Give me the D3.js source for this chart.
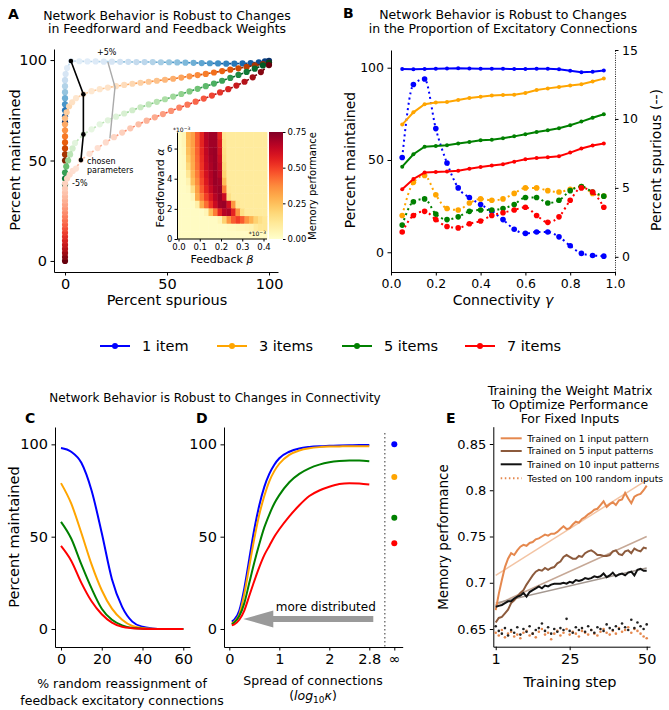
<!DOCTYPE html>
<html><head><meta charset="utf-8">
<script src="https://cdn.jsdelivr.net/npm/d3@7"></script>
<style>body{margin:0;background:#fff}svg{display:block}</style>
</head><body>
<svg id="c" width="669" height="710"></svg>
<script>
// ================= DATA =================
const itemLabels = ['1 item','3 items','5 items','7 items'];
const itemColors = ['#0000ff','#ffa500','#008000','#ff0000'];

// Panel A: percent spurious (x) vs percent maintained (y) while scaling weights
const aSpur1  = [0,0,0,0,0,0,0,0,0.3,1,2.9,7,11,15,19,23,27,31,35,39,43,47,51,55,59,63,67,71,75,79,83,87,91,95,98,100];
const aMaint1 = [69,72,75,78,81,84,87,90,93,96,99.5,99.4,99.3,99.3,99.2,99.2,99.1,99.1,99,99,99,98.9,98.9,98.8,98.7,98.6,98.5,98.4,98.3,98.2,98.2,98.3,98.5,98.9,99.3,99.6];
const aSpur3  = [0,0,0,0,0,0,0,0,0.8,2,3.5,5.4,9,13,17,21,25,29,33,37,41,45,49,53,57,61,65,69,73,77,81,85,89,93,97,100];
const aMaint3 = [50,53,56,59,62,65,68,71,74,77,79,81,83,84.5,85.5,86.3,87,87.6,88.2,88.7,89.2,89.7,90.2,90.7,91.3,91.9,92.5,93.1,93.8,94.5,95.2,95.9,96.6,97.3,98,98.6];
const aSpur5  = [0,0,0,0.6,1.5,2.5,3.7,4.9,9,13,17,21,25,29,33,37,41,45,49,53,57,61,65,69,73,77,81,85,89,93,97,100];
const aMaint5 = [38,41,44,47,50,53,56,58.7,63,65.5,68,70,71.8,73.4,75,76.5,77.9,79.2,80.5,81.8,83.1,84.4,85.7,87,88.3,89.7,91.1,92.6,94.1,95.7,97.3,98.6];
const aSpur7  = [0,0,0,0,0,0,0,0,0,0,0,0,0,0,0,0,0,0,0,0,1,2.3,3.8,5.4,7.8,12,16,20,24,28,32,36,40,44,48,52,56,60,64,68,72,76,80,84,88,92,96,100];
const aMaint7 = [0,2,4,6,8,10,12,14,16,18,20,22,24,26,28,30,32,34,36,38.5,41,43,44.8,46,50.2,53.3,56.2,59,61.6,63.9,66,68,69.8,71.5,73.1,74.7,76.3,77.8,79.3,80.8,82.3,83.9,85.5,87.3,89.2,91.4,94,97.5];
const aChosenX = [2.9,9,9,7.8];
const aChosenY = [99.5,83,63,50.2];
const aPlus5X = [21,24.5,22];
const aPlus5Y = [99,86.5,61];

// Inset heatmap: memory performance vs feedback beta (columns) and feedforward alpha (rows, top = high alpha)
const heatBeta = [0.01,0.03,0.05,0.07,0.09,0.11,0.13,0.15,0.17,0.19,0.21,0.23,0.25,0.27,0.29,0.31,0.33,0.35,0.37,0.39];
const heatAlpha = [6.85,6.34,5.83,5.33,4.82,4.31,3.80,3.30,2.79,2.28,1.78,1.27,0.76,0.25];
const heatValues = [
 [.02,.05,.28,.33,.45,.55,.66,.70,.70,.55,.12,.10,.10,.10,.10,.10,.10,.10,.10,.10],
 [.02,.05,.27,.33,.45,.55,.65,.70,.70,.58,.14,.10,.10,.10,.10,.10,.10,.10,.10,.10],
 [.02,.04,.25,.32,.44,.54,.64,.70,.71,.60,.15,.10,.10,.10,.10,.10,.10,.10,.10,.10],
 [.02,.03,.22,.31,.43,.53,.63,.69,.71,.62,.16,.10,.10,.10,.10,.10,.10,.10,.10,.10],
 [.02,.03,.18,.30,.42,.52,.62,.68,.71,.64,.18,.10,.10,.10,.10,.10,.10,.10,.10,.10],
 [.02,.02,.12,.28,.40,.50,.60,.67,.71,.66,.20,.10,.10,.10,.10,.10,.10,.10,.10,.10],
 [.02,.02,.06,.25,.37,.48,.58,.66,.71,.69,.26,.10,.10,.10,.10,.10,.10,.10,.10,.10],
 [.02,.02,.03,.15,.33,.45,.55,.63,.69,.71,.40,.11,.10,.10,.10,.10,.10,.10,.10,.10],
 [.02,.02,.02,.05,.30,.40,.50,.58,.66,.71,.62,.15,.10,.10,.10,.10,.10,.10,.10,.10],
 [.02,.02,.02,.02,.08,.30,.42,.52,.62,.70,.71,.60,.35,.12,.10,.10,.10,.10,.10,.10],
 [.02,.02,.02,.02,.02,.02,.05,.25,.40,.55,.66,.68,.55,.35,.15,.10,.10,.10,.10,.10],
 [.02,.02,.02,.02,.02,.02,.02,.02,.02,.05,.20,.35,.45,.50,.45,.35,.28,.20,.15,.12],
 [.02,.02,.02,.02,.02,.02,.02,.02,.02,.02,.02,.03,.03,.04,.04,.05,.06,.10,.12,.12],
 [.02,.02,.02,.02,.02,.02,.02,.02,.02,.02,.02,.02,.02,.02,.02,.02,.02,.02,.02,.02]
];

// Panel B: connectivity gamma
const bGamma = [0.05,0.1,0.15,0.2,0.25,0.3,0.35,0.4,0.45,0.5,0.55,0.6,0.65,0.7,0.75,0.8,0.85,0.9,0.95];
const bMaint1 = [99.3,99.2,99.3,99.5,99.6,99.7,99.6,99.5,99.5,99.4,99.3,99.3,99.5,99.5,99.2,98.4,97.5,97.8,98.5];
const bMaint3 = [69.2,75.8,80.2,81.1,81.4,82.5,83.6,84.3,84.9,85.2,85.4,86.3,87.9,88.8,89.6,90.3,91,92.5,94.1];
const bMaint5 = [46.4,53.1,57.2,57.6,58,58.9,59.8,60.7,61,61.8,62.8,63.9,65.2,66.1,67.2,68.8,70.8,72.9,74.8];
const bMaint7 = [34.1,39.7,43.2,43.5,43.7,44.2,45.3,46.2,47,47.7,49.1,50.4,51.1,51.5,52,54,56.2,57.8,58.9];
const bSpur1 = [7.2,12.5,12.9,9.3,6.8,5.0,4.3,3.8,3.3,2.7,2.0,1.7,1.8,1.8,1.45,0.8,0.25,0.1,0.05];
const bSpur3 = [3.0,5.4,5.9,4.5,3.5,3.4,3.9,4.2,4.1,4.2,4.6,5.0,5.0,4.8,4.7,4.9,5.1,4.6,4.4];
const bSpur5 = [2.3,4.0,4.2,3.1,2.7,2.9,3.3,3.4,3.4,3.5,3.8,4.3,4.3,3.9,4.1,4.8,5.1,4.7,4.4];
const bSpur7 = [1.8,3.0,3.3,2.7,2.2,2.1,2.4,2.6,3.0,3.2,3.4,3.6,3.0,2.5,2.9,4.1,5.0,4.7,3.6];

// Panel C: % random reassignment
const cReassign = [0,5,10,15,20,25,30,35,40,45,50,55,60];
const cMaint1 = [98,96,90,75,52,27,12,4,1.2,0.3,0,0,0];
const cMaint3 = [79,68,52,35,21,11,5,1.6,0.5,0.1,0,0,0];
const cMaint5 = [58,49,35,22,11,5,2,0.6,0.2,0,0,0,0];
const cMaint7 = [45,37,25,15,8,3.5,1.2,0.4,0.1,0,0,0,0];

// Panel D: spread of connections log10 kappa
const dSpread = [0.05,0.1,0.2,0.3,0.4,0.5,0.6,0.7,0.8,0.9,1.0,1.2,1.4,1.6,1.8,2.0,2.2,2.4,2.6,2.8];
const dMaint1 = [4,5,10,22,38,54,67,77,84,89,92.5,96,97.8,98.6,99,99.2,99.4,99.5,99.6,99.6];
const dMaint3 = [3,4,8,19,34,49,62,72,80,85.5,89.5,94.3,96.7,97.9,98.5,98.8,98.9,99,99,99];
const dMaint5 = [2.5,3.5,7,14,25,36,46,55,62,68,72.5,79.5,84,87,89,90.3,91,91.3,91.2,90.8];
const dMaint7 = [2,2.5,5,10,18,26,33.5,40,45,50,54,61,67,72,75,77,78.5,79,78.8,78.2];
const dInfinity = [100,82.3,60.3,46.4];
const dTickLabels = ['0','1','2','2.8','\u221e'];

// Panel E: training
const eLabels = ['Trained on 1 input pattern','Trained on 5 input patterns','Trained on 10 input patterns','Tested on 100 random inputs'];
const eTrain1 = [0.6705,0.688,0.703,0.717,0.726,0.732,0.730,0.735,0.739,0.741,0.740,0.743,0.744,0.747,0.748,0.750,0.752,0.751,0.753,0.753,0.755,0.758,0.761,0.758,0.759,0.763,0.766,0.765,0.769,0.771,0.774,0.776,0.779,0.780,0.784,0.788,0.782,0.785,0.787,0.784,0.789,0.790,0.797,0.791,0.786,0.793,0.795,0.796,0.800,0.805];
const eTrain5 = [0.657,0.662,0.663,0.667,0.671,0.678,0.681,0.685,0.689,0.692,0.698,0.703,0.708,0.712,0.714,0.713,0.716,0.714,0.716,0.717,0.721,0.723,0.728,0.730,0.728,0.726,0.726,0.729,0.728,0.732,0.734,0.735,0.733,0.730,0.730,0.729,0.729,0.730,0.734,0.735,0.731,0.730,0.734,0.735,0.732,0.737,0.735,0.734,0.738,0.737];
const eTrain10 = [0.674,0.675,0.676,0.678,0.680,0.680,0.683,0.685,0.686,0.689,0.685,0.690,0.692,0.694,0.696,0.694,0.697,0.696,0.698,0.699,0.699,0.699,0.700,0.699,0.701,0.700,0.703,0.702,0.703,0.705,0.704,0.705,0.707,0.706,0.707,0.710,0.706,0.708,0.711,0.707,0.709,0.710,0.708,0.711,0.712,0.708,0.714,0.715,0.713,0.713];
const eTrendStart = [0.708,0.676,0.678];
const eTrendEnd = [0.811,0.750,0.716];
const eTestA = [0.646,0.643,0.649,0.641,0.645,0.647,0.642,0.644,0.640,0.646,0.648,0.643,0.645,0.641,0.647,0.650,0.644,0.646,0.639,0.645,0.648,0.643,0.646,0.650,0.644,0.647,0.645,0.642,0.648,0.646,0.644,0.649,0.645,0.643,0.647,0.650,0.646,0.644,0.648,0.645,0.651,0.647,0.649,0.652,0.646,0.650,0.648,0.645,0.642,0.640];
const eTestB = [0.653,0.648,0.645,0.651,0.643,0.649,0.646,0.652,0.644,0.650,0.647,0.653,0.645,0.649,0.651,0.656,0.648,0.652,0.645,0.650,0.647,0.651,0.649,0.661,0.648,0.646,0.652,0.649,0.651,0.647,0.653,0.649,0.646,0.652,0.650,0.648,0.655,0.651,0.649,0.653,0.650,0.656,0.652,0.649,0.660,0.651,0.657,0.653,0.650,0.655];

// ================= DRAWING =================
const FONT = '"DejaVu Sans", Verdana, sans-serif';
const svg = d3.select('#c').attr('font-family', FONT);

function styleAxis(g, fs){
  g.attr('font-family', FONT).attr('font-size', fs);
  g.selectAll('.domain').attr('stroke','#000').attr('stroke-width',1);
  g.selectAll('.tick line').attr('stroke','#000').attr('stroke-width',1);
  g.selectAll('.tick text').attr('fill','#000');
  return g;
}
function text(x,y,t,fs,opts={}){
  const el = svg.append('text').attr('x',x).attr('y',y).attr('font-size',fs)
    .attr('text-anchor',opts.anchor||'middle').attr('fill',opts.fill||'#000').text(t);
  if(opts.bold) el.attr('font-weight','bold');
  return el;
}
function vtext(x,y,t,fs){
  return svg.append('text').attr('transform',`translate(${x},${y}) rotate(-90)`)
    .attr('text-anchor','middle').attr('dy','0.35em').attr('font-size',fs).text(t);
}

// ---------- Panel A ----------
text(8,19,'A',14,{anchor:'start',bold:true});
text(167,19.5,'Network Behavior is Robust to Changes',12.5);
text(167,33,'in Feedforward and Feedback Weights',12.5);
const xA = d3.scaleLinear().domain([-5.4,104.4]).range([54,278]);
const yA = d3.scaleLinear().domain([-5.5,105.5]).range([272,49]);
styleAxis(svg.append('g').attr('transform','translate(0,272)')
  .call(d3.axisBottom(xA).tickValues([0,50,100]).tickSize(3.5).tickPadding(3.5).tickSizeOuter(0)),14.5);
styleAxis(svg.append('g').attr('transform','translate(54,0)')
  .call(d3.axisLeft(yA).tickValues([0,50,100]).tickSize(3.5).tickPadding(3.5).tickSizeOuter(0)),14.5);
vtext(15,160,'Percent maintained',14.5);
text(167,305,'Percent spurious',14.5);

const famA = [
  {x:aSpur1,y:aMaint1,interp:d3.interpolateBlues},
  {x:aSpur3,y:aMaint3,interp:d3.interpolateOranges},
  {x:aSpur5,y:aMaint5,interp:d3.interpolateGreens},
  {x:aSpur7,y:aMaint7,interp:d3.interpolateReds}
];
const gCurves = svg.append('g');
famA.forEach((f,fi)=>{
  const n = f.x.length;
  let ci = 0, best = 1e9;
  f.x.forEach((v,i)=>{const d=Math.abs(v-aChosenX[fi])+Math.abs(f.y[i]-aChosenY[fi]); if(d<best){best=d;ci=i;}});
  const dist = i => Math.abs(i-ci)/(i<ci?Math.max(ci,1):Math.max(n-1-ci,1));
  const g = gCurves.append('g');
  for(let i=0;i<n-1;i++){
    const d = (dist(i)+dist(i+1))/2;
    g.append('line').attr('x1',xA(f.x[i])).attr('y1',yA(f.y[i])).attr('x2',xA(f.x[i+1])).attr('y2',yA(f.y[i+1]))
      .attr('stroke',f.interp(Math.min(1,0.25+0.85*Math.pow(d,1.3)))).attr('stroke-width',1.6).attr('stroke-dasharray','5,2.5');
  }
  g.selectAll('circle').data(d3.range(n)).join('circle')
    .attr('cx',i=>xA(f.x[i])).attr('cy',i=>yA(f.y[i])).attr('r',3.1)
    .attr('fill',i=>f.interp(0.1+0.9*Math.pow(dist(i),1.6)));
});
svg.append('path').attr('d',d3.line().x((d,i)=>xA(aPlus5X[i])).y((d,i)=>yA(aPlus5Y[i]))(aPlus5X))
  .attr('fill','none').attr('stroke','#aaaaaa').attr('stroke-width',1.4);
svg.append('path').attr('d',d3.line().x((d,i)=>xA(aChosenX[i])).y((d,i)=>yA(aChosenY[i]))(aChosenX))
  .attr('fill','none').attr('stroke','#000').attr('stroke-width',1.6);
svg.append('g').selectAll('circle').data(aChosenX).join('circle')
  .attr('cx',(d,i)=>xA(aChosenX[i])).attr('cy',(d,i)=>yA(aChosenY[i])).attr('r',2.3).attr('fill','#000');
text(97,55,'+5%',8,{anchor:'start'});
text(72,186,'-5%',8,{anchor:'start'});
text(87,164,'chosen',8,{anchor:'start'});
text(87,173,'parameters',8,{anchor:'start'});

// Inset heatmap
const hx = d3.scaleBand().domain(d3.range(heatBeta.length)).range([177,267]);
const hy = d3.scaleBand().domain(d3.range(heatAlpha.length)).range([132,239]);
const gH = svg.append('g');
heatValues.forEach((row,r)=>row.forEach((v,c)=>{
  gH.append('rect').attr('x',hx(c)).attr('y',hy(r)).attr('width',hx.bandwidth()+0.4).attr('height',hy.bandwidth()+0.4)
    .attr('fill',d3.interpolateYlOrRd(v/0.75));
}));
const xH = d3.scaleLinear().domain([0,0.4]).range([178.5,263.5]);
const yH = d3.scaleLinear().domain([0,7.1]).range([239,132]);
const gxH = styleAxis(svg.append('g').attr('transform','translate(0,239)')
  .call(d3.axisBottom(xH).tickValues([0,0.1,0.2,0.3,0.4]).tickFormat(d3.format('.1f')).tickSize(2.5).tickPadding(2).tickSizeOuter(0)),8.5);
gxH.select('.domain').attr('d','M177,0H267');
styleAxis(svg.append('g').attr('transform','translate(177,0)')
  .call(d3.axisLeft(yH).tickValues([0,2,4,6]).tickSize(2.5).tickPadding(2).tickSizeOuter(0)),8.5);
vtext(160,188,'',11).call(t=>{t.append('tspan').text('Feedforward ');t.append('tspan').attr('font-style','italic').text('\u03b1');});
const fb = text(222,263,'',11); fb.append('tspan').text('Feedback '); fb.append('tspan').attr('font-style','italic').text('\u03b2');
function sci(x,y,anchor){
  const t = text(x,y,'',6,{anchor}); t.append('tspan').text('*10');
  t.append('tspan').attr('dy',-2.5).attr('font-size',4.5).text('\u22123');
}
sci(173,132,'start'); sci(266,236,'end');
const defs = svg.append('defs');
const grad = defs.append('linearGradient').attr('id','cb').attr('x1',0).attr('y1',1).attr('x2',0).attr('y2',0);
d3.range(0,1.0001,0.05).forEach(t=>grad.append('stop').attr('offset',t).attr('stop-color',d3.interpolateYlOrRd(t)));
svg.append('rect').attr('x',269).attr('y',132).attr('width',14).attr('height',107).attr('fill','url(#cb)');
const yCB = d3.scaleLinear().domain([0,0.75]).range([239,132]);
const gcb = styleAxis(svg.append('g').attr('transform','translate(283,0)')
  .call(d3.axisRight(yCB).tickValues([0,0.25,0.5,0.75]).tickFormat(d3.format('.2f')).tickSize(2.5).tickPadding(2).tickSizeOuter(0)),8.5);
gcb.select('.domain').remove();
vtext(312,186,'Memory performance',10);

// ---------- Panel B ----------
text(343,18,'B',14,{anchor:'start',bold:true});
text(503,19,'Network Behavior is Robust to Changes',12.5);
text(503,33,'in the Proportion of Excitatory Connections',12.5);
const xB = d3.scaleLinear().domain([0,1]).range([391,615]);
const yB = d3.scaleLinear().domain([-10.7,109.6]).range([272,50]);
const yB2 = d3.scaleLinear().domain([-1.1,15]).range([272,50]);
styleAxis(svg.append('g').attr('transform','translate(0,272)')
  .call(d3.axisBottom(xB).tickValues([0,0.2,0.4,0.6,0.8,1.0]).tickFormat(d3.format('.1f')).tickSize(3.5).tickPadding(3.5).tickSizeOuter(0)),12.5);
styleAxis(svg.append('g').attr('transform','translate(391,0)')
  .call(d3.axisLeft(yB).tickValues([0,50,100]).tickSize(3.5).tickPadding(3.5).tickSizeOuter(0)),12.5);
const gR = styleAxis(svg.append('g').attr('transform','translate(615,0)')
  .call(d3.axisRight(yB2).tickValues([0,5,10,15]).tickSize(3.5).tickPadding(3.5).tickSizeOuter(0)),12.5);
gR.select('.domain').attr('stroke-dasharray','1,1.3').attr('stroke-width',0.9);
vtext(350,160,'Percent maintained',14);
vtext(656,160,'Percent spurious (--)',14);
const cx = text(503,305,'',14); cx.append('tspan').text('Connectivity '); cx.append('tspan').attr('font-style','italic').text('\u03b3');
const bMaint = [bMaint1,bMaint3,bMaint5,bMaint7];
const bSpur = [bSpur1,bSpur3,bSpur5,bSpur7];
bSpur.forEach((s,k)=>{
  svg.append('path').attr('d',d3.line().curve(d3.curveMonotoneX).x((d,i)=>xB(bGamma[i])).y(d=>yB2(d))(s))
    .attr('fill','none').attr('stroke',itemColors[k]).attr('stroke-width',2).attr('stroke-dasharray','2,3.3');
  svg.append('g').selectAll('circle').data(s).join('circle').attr('cx',(d,i)=>xB(bGamma[i])).attr('cy',d=>yB2(d))
    .attr('r',2.8).attr('fill',itemColors[k]);
});
bMaint.forEach((s,k)=>{
  svg.append('path').attr('d',d3.line().x((d,i)=>xB(bGamma[i])).y(d=>yB(d))(s))
    .attr('fill','none').attr('stroke',itemColors[k]).attr('stroke-width',2);
  svg.append('g').selectAll('circle').data(s).join('circle').attr('cx',(d,i)=>xB(bGamma[i])).attr('cy',d=>yB(d))
    .attr('r',2).attr('fill',itemColors[k]);
});

// ---------- Legend ----------
const legX = [100,217,342,465];
itemLabels.forEach((l,k)=>{
  svg.append('line').attr('x1',legX[k]).attr('x2',legX[k]+30).attr('y1',346).attr('y2',346).attr('stroke',itemColors[k]).attr('stroke-width',2);
  svg.append('circle').attr('cx',legX[k]+15).attr('cy',346).attr('r',3).attr('fill',itemColors[k]);
  text(legX[k]+42,351,l,14.5,{anchor:'start'});
});

// ---------- Panel C ----------
text(215,401.5,'Network Behavior is Robust to Changes in Connectivity',12);
text(25,423,'C',14,{anchor:'start',bold:true});
const xC = d3.scaleLinear().domain([-2.94,63.3]).range([55,190]);
const yC = d3.scaleLinear().domain([-9.75,109.4]).range([647,427]);
styleAxis(svg.append('g').attr('transform','translate(0,647)')
  .call(d3.axisBottom(xC).tickValues([0,20,40,60]).tickSize(3.5).tickPadding(3.5).tickSizeOuter(0)),14.5);
styleAxis(svg.append('g').attr('transform','translate(55,0)')
  .call(d3.axisLeft(yC).tickValues([0,50,100]).tickSize(3.5).tickPadding(3.5).tickSizeOuter(0)),14.5);
vtext(14,537,'Percent maintained',14.5);
text(122,688,'% random reassignment of',12.5);
text(122,705,'feedback excitatory connections',12.5);
[cMaint1,cMaint3,cMaint5,cMaint7].forEach((s,k)=>{
  svg.append('path').attr('d',d3.line().curve(d3.curveMonotoneX).x((d,i)=>xC(cReassign[i])).y(d=>yC(d))(s))
    .attr('fill','none').attr('stroke',itemColors[k]).attr('stroke-width',2);
});

// ---------- Panel D ----------
text(196,423,'D',14,{anchor:'start',bold:true});
const xD = d3.scaleLinear().domain([-0.106,3.468]).range([224,402.7]);
const yD = yC.copy();
const dTicks = [0,1,2,2.8,3.3];
styleAxis(svg.append('g').attr('transform','translate(0,647)')
  .call(d3.axisBottom(xD).tickValues(dTicks).tickFormat((d,i)=>dTickLabels[i]).tickSize(3.5).tickPadding(3.5).tickSizeOuter(0)),14.5);
styleAxis(svg.append('g').attr('transform','translate(224,0)')
  .call(d3.axisLeft(yD).tickValues([0,50,100]).tickSize(3.5).tickPadding(3.5).tickSizeOuter(0)),14.5);
svg.append('line').attr('x1',xD(3.11)).attr('x2',xD(3.11)).attr('y1',433).attr('y2',647)
  .attr('stroke','#777').attr('stroke-width',1.5).attr('stroke-dasharray','1.5,2.5');
[dMaint1,dMaint3,dMaint5,dMaint7].forEach((s,k)=>{
  svg.append('path').attr('d',d3.line().curve(d3.curveMonotoneX).x((d,i)=>xD(dSpread[i])).y(d=>yD(d))(s))
    .attr('fill','none').attr('stroke',itemColors[k]).attr('stroke-width',2);
});
svg.append('g').selectAll('circle').data(dInfinity).join('circle')
  .attr('cx',xD(3.3)).attr('cy',d=>yD(d)).attr('r',3).attr('fill',(d,i)=>itemColors[i]);
const ay = yD(0)-10;
svg.append('path').attr('d',`M${xD(2.88)},${ay-3}H${xD(0.88)}V${ay-8.5}L${xD(0.28)},${ay}L${xD(0.88)},${ay+8.5}V${ay+3}H${xD(2.88)}Z`)
  .attr('fill','#9a9a9a');
text(xD(1.93),ay-8,'more distributed',12);
text(313,684.5,'Spread of connections',12.5);
const lg = text(313,700,'',12.5);
lg.append('tspan').text('(');
lg.append('tspan').attr('font-style','italic').text('log');
lg.append('tspan').attr('font-size',9).attr('dy',3).text('10');
lg.append('tspan').attr('font-style','italic').attr('dy',-3).text('\u03ba');
lg.append('tspan').text(')');

// ---------- Panel E ----------
text(570,394.5,'Training the Weight Matrix',12.5);
text(570,408.5,'To Optimize Performance',12.5);
text(570,422.5,'For Fixed Inputs',12.5);
text(446,423,'E',14,{anchor:'start',bold:true});
const xE = d3.scaleLinear().domain([0.22,51.07]).range([493.3,650]);
const yE = d3.scaleLinear().domain([0.6309,0.8687]).range([646.7,426.7]);
styleAxis(svg.append('g').attr('transform','translate(0,646.7)')
  .call(d3.axisBottom(xE).tickValues([1,25,50]).tickSize(3.5).tickPadding(3.5).tickSizeOuter(0)),14.5);
styleAxis(svg.append('g').attr('transform','translate(493.3,0)')
  .call(d3.axisLeft(yE).tickValues([0.65,0.7,0.75,0.8,0.85]).tickFormat(d=>d3.format('')(+d.toFixed(2))).tickSize(3.5).tickPadding(3.5).tickSizeOuter(0)),13);
vtext(443,537,'Memory performance',13.5);
text(570,687,'Training step',14.5);
const eColors = ['#e5884e','#8c5a3c','#111111'];
const eTrendColors = ['#f3c4a4','#c6a896','#a49890'];
const eSeries = [eTrain1,eTrain5,eTrain10];
[[eTestA,'#e5884e'],[eTestB,'#222']].forEach(([s,c])=>{
  svg.append('g').selectAll('circle').data(s).join('circle')
    .attr('cx',(d,i)=>xE(i+1)).attr('cy',d=>yE(d)).attr('r',1.3).attr('fill',c);
});
eSeries.forEach((s,k)=>{
  svg.append('line').attr('x1',xE(1)).attr('x2',xE(50)).attr('y1',yE(eTrendStart[k])).attr('y2',yE(eTrendEnd[k]))
    .attr('stroke',eTrendColors[k]).attr('stroke-width',1.5);
});
eSeries.forEach((s,k)=>{
  svg.append('path').attr('d',d3.line().x((d,i)=>xE(i+1)).y(d=>yE(d))(s))
    .attr('fill','none').attr('stroke',eColors[k]).attr('stroke-width',2);
});
const eLegY = [438.3,451,464.3,478.3];
eLabels.forEach((l,k)=>{
  const ln = svg.append('line').attr('x1',500.7).attr('x2',521.7).attr('y1',eLegY[k]).attr('y2',eLegY[k]).attr('stroke-width',2);
  if(k<3) ln.attr('stroke',eColors[k]);
  else ln.attr('stroke','#e5884e').attr('stroke-dasharray','1.5,2.6');
  text(527.3,eLegY[k]+3.4,l,9.3,{anchor:'start'});
});
</script>
</body></html>
